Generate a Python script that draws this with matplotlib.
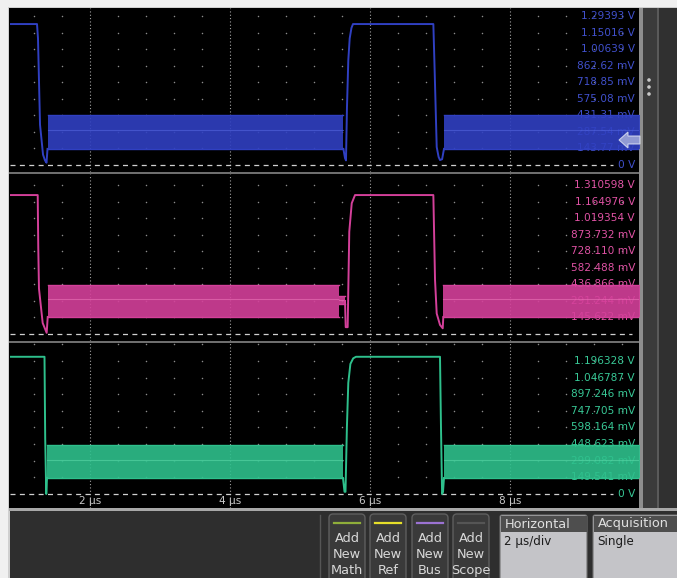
import matplotlib
matplotlib.use('Agg')
import matplotlib.pyplot as plt
import matplotlib.transforms as mtransforms
from matplotlib.patches import Rectangle, FancyBboxPatch, Polygon, Circle
import numpy as np

plt.rcParams['font.family'] = ['DejaVu Sans']

# ---------------- data (time in µs, voltage in V) ----------------
blue_labels = ['1.29393 V', '1.15016 V', '1.00639 V', '862.62 mV', '718.85 mV',
               '575.08 mV', '431.31 mV', '287.54 mV', '143.77 mV', '0 V']
blue_levels = [1.29393, 1.15016, 1.00639, 0.86262, 0.71885, 0.57508, 0.43131, 0.28754, 0.14377, 0.0]
blue_segA_t = [0.85, 1.243, 1.257, 1.286, 1.329, 1.357, 1.379, 1.393]
blue_segA_v = [1.224, 1.224, 1.10, 0.35, 0.09, 0.04, 0.02, 0.14]
blue_segB_t = [5.62, 5.643, 5.657, 5.671, 5.69, 5.71, 5.735, 5.757, 6.905, 6.92, 6.953, 6.98, 7.0, 7.03, 7.057]
blue_segB_v = [0.14, 0.06, 0.04, 0.50, 0.91, 1.10, 1.19, 1.224, 1.224, 0.90, 0.156, 0.07, 0.043, 0.05, 0.14]
blue_bands = [(1.393, 5.62, 0.139, 0.434), (7.057, 9.85, 0.139, 0.434)]

pink_labels = ['1.310598 V', '1.164976 V', '1.019354 V', '873.732 mV', '728.110 mV',
               '582.488 mV', '436.866 mV', '291.244 mV', '145.622 mV']
pink_levels = [1.310598, 1.164976, 1.019354, 0.873732, 0.728110, 0.582488, 0.436866, 0.291244, 0.145622]
pink_segA_t = [0.85, 1.253, 1.261, 1.271, 1.324, 1.381, 1.396]
pink_segA_v = [1.222, 1.222, 0.76, 0.40, 0.097, 0.01, 0.15]
pink_segB_t = [5.643, 5.653, 5.681, 5.704, 5.739, 5.786, 6.905, 6.929, 6.953, 7.0, 7.039, 7.047]
pink_segB_v = [0.29, 0.06, 0.06, 0.90, 1.15, 1.222, 1.222, 0.475, 0.18, 0.08, 0.05, 0.15]
pink_bands = [(1.396, 5.557, 0.150, 0.431), (5.557, 5.643, 0.26, 0.33), (7.047, 9.85, 0.150, 0.431)]

green_labels = ['1.196328 V', '1.046787 V', '897.246 mV', '747.705 mV', '598.164 mV',
                '448.623 mV', '299.082 mV', '149.541 mV', '0 V']
green_levels = [1.196328, 1.046787, 0.897246, 0.747705, 0.598164, 0.448623, 0.299082, 0.149541, 0.0]
green_segA_t = [0.85, 1.35, 1.36, 1.375, 1.386]
green_segA_v = [1.234, 1.234, 0.5, 0.0, 0.144]
green_segB_t = [5.614, 5.636, 5.65, 5.67, 5.69, 5.72, 5.76, 5.80, 7.0, 7.014, 7.03, 7.043, 7.057]
green_segB_v = [0.144, 0.02, 0.02, 0.6, 1.0, 1.17, 1.22, 1.234, 1.234, 0.6, 0.0, 0.02, 0.144]
green_bands = [(1.386, 5.614, 0.144, 0.441), (7.057, 9.85, 0.144, 0.441)]

time_ticks = [2, 4, 6, 8]
time_labels = ['2 µs', '4 µs', '6 µs', '8 µs']
buttons = [('Math', '#8fae3a'), ('Ref', '#e6df2a'), ('Bus', '#9b72d2'), ('Scope', '#555555')]

# ---------------- layout ----------------
W, H = 677, 578
fig = plt.figure(figsize=(W / 100, H / 100), dpi=100)
fig.patch.set_facecolor('#2e2e2e')

def fbox(x0, y0, x1, y1):
    return [x0 / W, 1 - y1 / H, (x1 - x0) / W, (y1 - y0) / H]

bg = fig.add_axes([0, 0, 1, 1], zorder=0)
bg.set_xlim(0, W); bg.set_ylim(H, 0); bg.axis('off')

def rect(ax, x0, y0, x1, y1, c, **kw):
    ax.add_patch(Rectangle((x0, y0), x1 - x0, y1 - y0, facecolor=c, edgecolor='none', **kw))

rect(bg, 0, 0, W, H, '#2e2e2e')
rect(bg, 0, 0, W, 7, '#f0f0f0')
rect(bg, 0, 7, W, 8.5, '#cfcfcf')
rect(bg, 0, 0, 8, H, '#f0f0f0')
rect(bg, 8, 7, 9.5, H, '#cfcfcf')
rect(bg, 9, 8, 639, 508, '#000000')
rect(bg, 639, 8, 643, 508, '#8e8e8e')
rect(bg, 643, 8, 657, 508, '#3b3b3b')
rect(bg, 657, 8, 659, 508, '#5a5a5a')
rect(bg, 659, 8, W, 508, '#303030')
rect(bg, 9, 508, W, 510.5, '#a8a8a8')
rect(bg, 9, 172, 639, 174, '#6e6e6e')
rect(bg, 9, 341, 639, 343, '#6e6e6e')
for yy in (80, 87, 94):
    bg.add_patch(Circle((649, yy), 1.8, facecolor='#c8c8c8', edgecolor='none'))

t_left, t_right = (9.5 + 50) / 70, (639 + 50) / 70

panels = [
    dict(top=8, bot=172, zero=165, ppv=115.15, color='#3040c2', lab='#4050cc', light='#5466e0',
         labels=blue_labels, levels=blue_levels, segs=[(blue_segA_t, blue_segA_v), (blue_segB_t, blue_segB_v)],
         bands=blue_bands, dash_end=613, step=0.14377),
    dict(top=174, bot=341, zero=334, ppv=113.7, color='#d4409a', lab='#e052a4', light='#ec74b8',
         labels=pink_labels, levels=pink_levels, segs=[(pink_segA_t, pink_segA_v), (pink_segB_t, pink_segB_v)],
         bands=pink_bands, dash_end=632, step=0.145622),
    dict(top=343, bot=508, zero=494, ppv=111.2, color='#2ec08c', lab='#38c896', light='#5ad8a8',
         labels=green_labels, levels=green_levels, segs=[(green_segA_t, green_segA_v), (green_segB_t, green_segB_v)],
         bands=green_bands, dash_end=613, step=0.149541),
]

axes = []
for p in panels:
    ax = fig.add_axes(fbox(9.5, p['top'], 639, p['bot']), zorder=1)
    ax.set_facecolor('#000000')
    ax.set_xlim(t_left, t_right)
    ax.set_ylim((p['zero'] - p['bot']) / p['ppv'], (p['zero'] - p['top']) / p['ppv'])
    for s in ax.spines.values():
        s.set_visible(False)
    ax.set_xticks([]); ax.set_yticks([])
    # major dotted verticals
    for t in time_ticks:
        ax.axvline(t, color='#a0a0a0', lw=0.8, ls=(0, (1, 2)), zorder=1)
    # minor dot grid
    gx = [t for t in np.arange(1.2, 9.7, 0.4) if abs(t / 2 - round(t / 2)) > 1e-6]
    gy = [p['step'] * k for k in range(1, 10)]
    GX, GY = np.meshgrid(gx, gy)
    ax.scatter(GX.ravel(), GY.ravel(), s=1.2, color='#8c8c8c', linewidths=0, zorder=1)
    # zero dashed line
    ax.plot([t_left, (p['dash_end'] + 50) / 70], [0, 0], color='#d0d0d0', lw=0.9,
            dashes=(4, 3.5), zorder=2)
    # labels
    tr = mtransforms.blended_transform_factory(ax.transAxes, ax.transData)
    for s, v in zip(p['labels'], p['levels']):
        ax.text(0.9935, v, s, transform=tr, ha='right', va='center', fontsize=7.6,
                color=p['lab'], zorder=2)
    # bands
    for (t0, t1, lo, hi) in p['bands']:
        ax.fill_between([t0, t1], [lo, lo], [hi, hi], color=p['color'], lw=0, alpha=0.9, zorder=3)
        mid = lo + 0.55 * (hi - lo)
        ax.plot([t0, t1], [mid, mid], color=p['light'], lw=0.8, alpha=0.6, zorder=3)
        ax.plot([t0, t1], [hi, hi], color=p['color'], lw=1.0, zorder=3)
        ax.plot([t0, t1], [lo, lo], color=p['color'], lw=1.0, zorder=3)
    # traces
    for (tt, vv) in p['segs']:
        ax.plot(tt, vv, color=p['color'], lw=1.4, solid_joinstyle='round', zorder=4)
    axes.append(ax)

ax3 = axes[2]
for t, s in zip(time_ticks, time_labels):
    ax3.text(t, (494 - 500.5) / 111.2, s, ha='center', va='center', fontsize=7.6,
             color='#c8c8c8', zorder=5)

# ---------------- overlay (marker, bottom controls) ----------------
ov = fig.add_axes([0, 0, 1, 1], zorder=3)
ov.set_xlim(0, W); ov.set_ylim(H, 0); ov.axis('off'); ov.patch.set_alpha(0)

ov.add_patch(Polygon([(619, 140), (628, 132), (628, 136), (640, 136), (640, 144), (628, 144), (628, 148)],
                     closed=True, facecolor='#b4bce0', alpha=0.75, edgecolor='#e8ecf8', lw=0.8))

ov.plot([320, 320], [515, 578], color='#555555', lw=1)

bx = [329, 370, 412, 453]
for x0, (name, col) in zip(bx, buttons):
    ov.add_patch(FancyBboxPatch((x0, 514), 36, 80, boxstyle='round,pad=0,rounding_size=4',
                                facecolor='#3a3a3a', edgecolor='#5e5e5e', lw=1))
    ov.plot([x0 + 5, x0 + 31], [523, 523], color=col, lw=1.6)
    for yy, s in zip((538, 554.5, 570.5), ('Add', 'New', name)):
        ov.text(x0 + 18, yy, s, ha='center', va='center', fontsize=9.3, color='#d8d8d8')

for x0, x1, head, body in ((500, 587, 'Horizontal', '2 µs/div'), (593, 682, 'Acquisition', 'Single')):
    ov.add_patch(FancyBboxPatch((x0, 515), x1 - x0, 80, boxstyle='round,pad=0,rounding_size=2',
                                facecolor='#c4c4c8', edgecolor='#707070', lw=0.8))
    rect(ov, x0 + 0.5, 515.5, x1 - 0.5, 532, '#4e4e4e')
    ov.text(x0 + 5, 524, head, ha='left', va='center', fontsize=9.3, color='#e0e0e0')
    ov.text(x0 + 4, 541, body, ha='left', va='center', fontsize=8.6, color='#1c1c1c')

fig.savefig('out.png', dpi=100, facecolor=fig.get_facecolor())
